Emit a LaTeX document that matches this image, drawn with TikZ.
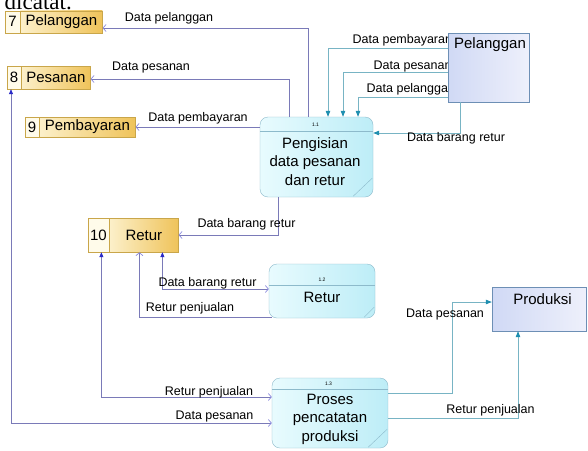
\documentclass[tikz,border=0pt]{standalone}
\usepackage{fontspec}
\setmainfont{Liberation Sans}
\newfontfamily\cutserif{Liberation Serif}
\usepackage{tikz}
\usetikzlibrary{positioning,arrows.meta,calc}
\definecolor{storeline}{HTML}{C9A64A}
\definecolor{storecell}{HTML}{FFFBEA}
\definecolor{storelight}{HTML}{FCF0CA}
\definecolor{storedark}{HTML}{EFC35A}
\definecolor{procline}{HTML}{8DBACB}
\definecolor{proclight}{HTML}{E8FBFE}
\definecolor{procdark}{HTML}{BDEDF7}
\definecolor{extline}{HTML}{6D8FB5}
\definecolor{extdark}{HTML}{D0D9F5}
\definecolor{extlight}{HTML}{EEF0FB}
\definecolor{flowblue}{HTML}{7A7AB8}
\definecolor{barbblue}{HTML}{8A8ADD}
\definecolor{tipblue}{HTML}{2A2AC8}
\definecolor{flowteal}{HTML}{78B4C4}
\definecolor{tipteal}{HTML}{1F8FB0}
\newcommand\boxfont{\fontsize{15}{18.5}\selectfont}
\newcommand\flowfont{\fontsize{12.5}{14}\selectfont}
\newcommand\idfont{\fontsize{5}{6}\selectfont}
\tikzset{
  storenum/.style={draw=storeline,fill=storecell,inner sep=0pt,font=\boxfont},
  storename/.style={draw=storeline,left color=storelight,right color=storedark,
            inner sep=0pt,font=\boxfont},
  proc/.style={draw=procline,rounded corners=8pt,left color=proclight,
            right color=procdark,inner sep=0pt},
  proctext/.style={align=center,font=\boxfont,inner sep=0pt},
  procid/.style={font=\idfont,inner sep=0pt},
  extent/.style={draw=extline,left color=extdark,right color=extlight,inner sep=0pt},
  exttext/.style={font=\boxfont,inner sep=0pt},
  flowlbl/.style={font=\flowfont,inner sep=0pt},
  storeflow/.style={draw=flowblue,line width=0.7pt,
            -{Straight Barb[length=3pt,width=7pt,color=barbblue]}},
  backflow/.style={draw=flowblue,line width=0.7pt,
            {Triangle[length=5pt,width=4pt,color=tipblue]}-{Straight Barb[length=3pt,width=7pt,color=barbblue]}},
  extflow/.style={draw=flowteal,line width=0.7pt,
            -{Triangle[length=6pt,width=4.5pt,color=tipteal]}},
}

\begin{document}
\begin{tikzpicture}[x=1pt,y=-1pt]
  \useasboundingbox (0,0) rectangle (588,450);
  \clip (0,0) rectangle (588,450);
  \fill[white] (0,0) rectangle (588,450);
  \node[anchor=base west,inner sep=0pt,font=\cutserif\fontsize{23}{23}\selectfont] (cut) at (4.5,9) {dicatat.};

  % data stores
  \node[storenum,minimum width=15pt,minimum height=22pt] (s7n) at (12.5,21.7) {7};
  \node[storename,minimum width=82pt,minimum height=22pt,right=0pt of s7n] (s7) {Pelanggan};
  \node[storenum,minimum width=14pt,minimum height=23pt] (s8n) at (14,77.5) {8};
  \node[storename,minimum width=69pt,minimum height=23pt,right=0pt of s8n] (s8) {Pesanan};
  \node[storenum,minimum width=14pt,minimum height=20pt] (s9n) at (32,127) {9};
  \node[storename,minimum width=96pt,minimum height=20pt,right=0pt of s9n] (s9) {Pembayaran};
  \node[storenum,minimum width=21pt,minimum height=34pt] (s10n) at (98.5,235) {10};
  \node[storename,minimum width=69pt,minimum height=34pt,right=0pt of s10n] (s10) {Retur};

  % processes
  \node[proc,minimum width=113pt,minimum height=80pt] (p11) at (316.5,157) {};
  \node[proctext] (p11t) at (315,161.5) {Pengisian\\data pesanan\\dan retur};
  \node[procid] (p11i) at (315.5,125) {1.1};
  \node[proc,minimum width=106pt,minimum height=54pt] (p12) at (322,291) {};
  \node[proctext] (p12t) at (322,297) {Retur};
  \node[procid] (p12i) at (322,279.5) {1.2};
  \node[proc,minimum width=116pt,minimum height=70pt] (p13) at (330,413) {};
  \node[proctext] (p13t) at (330,419) {Proses\\pencatatan\\produksi};
  \node[procid] (p13i) at (328.5,383.5) {1.3};
  \draw[procline] ([yshift=-14pt]p11.north west) -- ([yshift=-14pt]p11.north east);
  \draw[procline] ([yshift=-21pt]p12.north west) -- ([yshift=-21pt]p12.north east);
  \draw[procline] ([yshift=-11pt]p13.north west) -- ([yshift=-11pt]p13.north east);
  \draw[procline] ([xshift=-20pt,yshift=1pt]p11.south east) -- ([xshift=-1pt,yshift=19pt]p11.south east);
  \draw[procline] ([xshift=-11pt,yshift=1pt]p12.south east) -- ([xshift=-1pt,yshift=11pt]p12.south east);
  \draw[procline] ([xshift=-20pt,yshift=1pt]p13.south east) -- ([xshift=-1pt,yshift=19pt]p13.south east);

  % labels under the Pelanggan box
  \node[flowlbl,anchor=west] (l4) at (352.5,40) {Data pembayaran};
  \node[flowlbl,anchor=west] (l5) at (373.5,66) {Data pesanan};
  \node[flowlbl,anchor=west] (l6) at (366.5,89) {Data pelanggan};

  % external entities
  \node[extent,minimum width=81pt,minimum height=69pt] (e1) at (488.5,67.5) {};
  \node[exttext] (e1t) at (490,45) {Pelanggan};
  \node[extent,minimum width=94pt,minimum height=44pt] (e2) at (539,309) {};
  \node[exttext] (e2t) at (542.5,299) {Produksi};

  % flows of 1.1
  \draw[storeflow] ([xshift=-8.5pt]p11.north) |- ([yshift=-6.3pt]s7.east);
  \draw[storeflow] ([xshift=-27.5pt]p11.north) |- ([yshift=-1.5pt]s8.east);
  \draw[storeflow] (p11.west |- s9.east) -- (s9.east);
  \draw[storeflow] ([xshift=-38.5pt]p11.south) |- (s10.east);
  \draw[extflow] ([yshift=19.5pt]e1.west) -| ([xshift=11.5pt]p11.north);
  \draw[extflow] ([yshift=-4.5pt]e1.west) -| ([xshift=26.5pt]p11.north);
  \draw[extflow] ([yshift=-29.5pt]e1.west) -| ([xshift=41.5pt]p11.north);
  \draw[extflow] ([xshift=-28.5pt]e1.south) |- ([yshift=24pt]p11.east);
  \node[flowlbl] (l1) at (169,18) {Data pelanggan};
  \node[flowlbl] (l2) at (151,67.5) {Data pesanan};
  \node[flowlbl] (l3) at (198,118) {Data pembayaran};
  \node[flowlbl] (l7) at (456,138) {Data barang retur};
  \node[flowlbl] (l8) at (246.5,224) {Data barang retur};

  % flows of 1.2
  \draw[backflow] ([xshift=18.5pt]s10.south) |- ([yshift=2pt]p12.west);
  \draw[storeflow] ([xshift=3pt,yshift=-26pt]p12.west) -| ([xshift=-4.5pt]s10.south);
  \node[flowlbl] (l9) at (207.5,283) {Data barang retur};
  \node[flowlbl] (l10) at (190,308) {Retur penjualan};

  % flows of 1.3
  \draw[backflow] ([xshift=-42.5pt]s10.south) |- ([yshift=16pt]p13.west);
  \draw[backflow] ([xshift=-3pt]s8n.south) |- ([yshift=-10pt]p13.west);
  \draw[extflow] ([yshift=20pt]p13.east) -| ([xshift=-39pt,yshift=7pt]e2.west)
        -- ([yshift=7pt]e2.west);
  \draw[extflow] ([yshift=-5pt]p13.east) -| ([xshift=-21pt]e2.south);
  \node[flowlbl] (l11) at (209,392) {Retur penjualan};
  \node[flowlbl] (l12) at (214.5,416) {Data pesanan};
  \node[flowlbl] (l13) at (445,314) {Data pesanan};
  \node[flowlbl] (l14) at (490.5,410) {Retur penjualan};
\end{tikzpicture}
\end{document}
